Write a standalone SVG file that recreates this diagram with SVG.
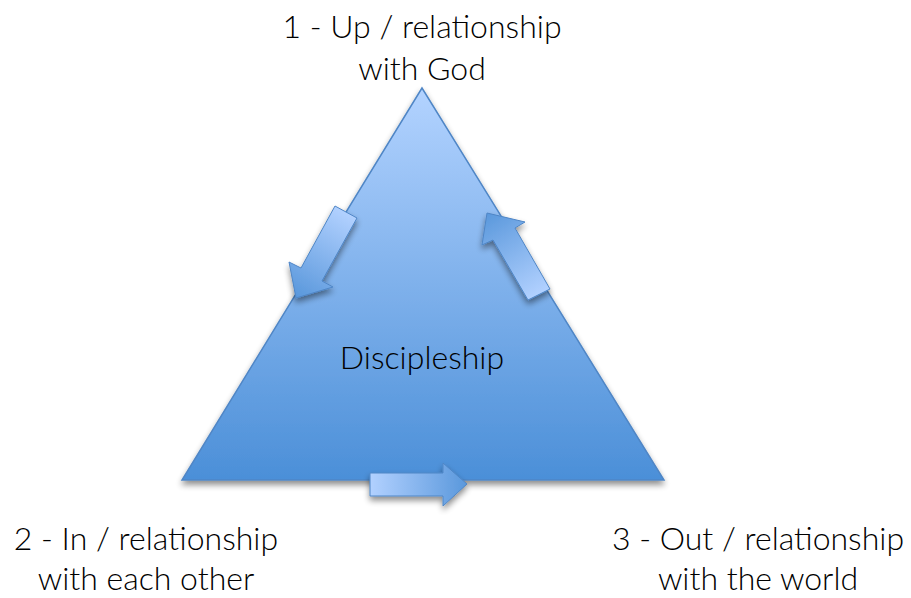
<svg xmlns="http://www.w3.org/2000/svg" width="911" height="598" viewBox="0 0 911 598">
<defs>
<linearGradient id="tri" x1="0" y1="0" x2="0" y2="1">
<stop offset="0" stop-color="#b3d3ff"/>
<stop offset="1" stop-color="#4b8fd8"/>
</linearGradient>
<linearGradient id="arrH" x1="0" y1="0" x2="1" y2="0">
<stop offset="0" stop-color="#b2d1ff"/>
<stop offset="1" stop-color="#5a98dc"/>
</linearGradient>
<linearGradient id="arrL" gradientUnits="userSpaceOnUse" x1="346" y1="212" x2="296" y2="296">
<stop offset="0" stop-color="#b2d1ff"/>
<stop offset="1" stop-color="#5a98dc"/>
</linearGradient>
<linearGradient id="arrR" gradientUnits="userSpaceOnUse" x1="539" y1="295" x2="487" y2="213">
<stop offset="0" stop-color="#b2d1ff"/>
<stop offset="1" stop-color="#5a98dc"/>
</linearGradient>
<filter id="sh" x="-20%" y="-20%" width="140%" height="140%">
<feGaussianBlur in="SourceAlpha" stdDeviation="3"/>
<feOffset dx="0" dy="4" result="b"/>
<feComponentTransfer><feFuncA type="linear" slope="0.45"/></feComponentTransfer>
<feMerge><feMergeNode/><feMergeNode in="SourceGraphic"/></feMerge>
</filter>
</defs>
<style>
text{font-family:"Lato","Noto Sans","Liberation Sans",sans-serif;font-size:32px;font-weight:300;fill:#000;text-anchor:middle}
.arrow{stroke:#4f86c6;stroke-width:1;stroke-linejoin:miter}
</style>
<g id="triangle">
<polygon points="422,88 182,480 664,480" fill="url(#tri)" stroke="#4f86c6" stroke-width="1.5" filter="url(#sh)"/>
<text x="422" y="369">Discipleship</text>
</g>
<g id="connectors">
<polygon class="arrow" fill="url(#arrL)" filter="url(#sh)" points="335,206 357,218 322,281 333,287 296,298 289,262 301,268"/>
<polygon class="arrow" fill="url(#arrR)" filter="url(#sh)" points="528,300 550,289 515,228 525,222 487,213 482,245 493,240"/>
<polygon class="arrow" fill="url(#arrH)" filter="url(#sh)" points="370,473 443,473 443,463 467,484 443,506 443,496 370,496"/>
</g>
<g id="node-up">
<text x="422" y="38">1 - Up / relationship</text>
<text x="422" y="80">with God</text>
</g>
<g id="node-in">
<text x="146" y="550">2 - In / relationship</text>
<text x="146" y="590">with each other</text>
</g>
<g id="node-out">
<text x="758" y="550">3 - Out / relationship</text>
<text x="758" y="590">with the world</text>
</g>
</svg>
